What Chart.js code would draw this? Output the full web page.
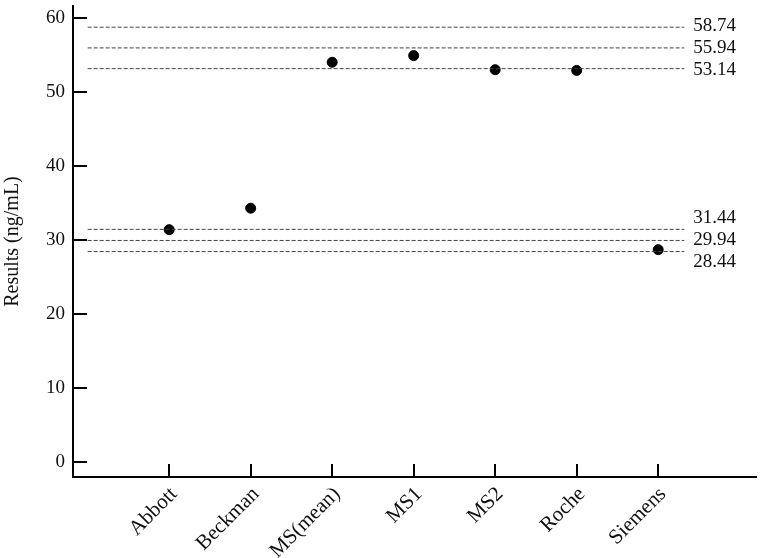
<!DOCTYPE html>
<html>
<head>
<meta charset="utf-8">
<script src="https://cdn.jsdelivr.net/npm/chart.js@4/dist/chart.umd.min.js"></script>
<style>
  html, body { margin: 0; padding: 0; background: #fff; }
  #wrap { width: 762px; height: 558px; position: relative; }
</style>
</head>
<body>
<div id="wrap"><canvas id="chart"></canvas></div>
<script>
// datos del gráfico
const categories = ['Abbott', 'Beckman', 'MS(mean)', 'MS1', 'MS2', 'Roche', 'Siemens'];
const results = [31.4, 34.3, 54.0, 54.9, 53.0, 52.9, 28.7];
const refValues = [58.74, 55.94, 53.14, 31.44, 29.94, 28.44];
const yTicks = [0, 10, 20, 30, 40, 50, 60];

// extremos de las líneas de referencia (en unidades del eje x)
const refStart = -1;
const refEnd = 6.32;

const FONT = 'Liberation Serif, Times New Roman, serif';

// separa las etiquetas que quedan muy juntas
function spreadLabels(ys, gap) {
  let groups = ys.map(y => ({ items: [y], start: y }));
  let changed = true;
  while (changed) {
    changed = false;
    for (let i = 0; i < groups.length - 1; i++) {
      const a = groups[i], b = groups[i + 1];
      const aEnd = a.start + (a.items.length - 1) * gap;
      if (b.start - aEnd < gap) {
        const items = a.items.concat(b.items);
        const mean = items.reduce((s, v) => s + v, 0) / items.length;
        groups.splice(i, 2, { items: items, start: mean - (items.length - 1) * gap / 2 });
        changed = true;
        break;
      }
    }
  }
  const out = [];
  groups.forEach(g => g.items.forEach((_, k) => out.push(g.start + k * gap)));
  return out;
}

const axisDecor = {
  id: 'axisDecor',
  afterDraw(chart) {
    const ctx = chart.ctx;
    const x = chart.scales.x, y = chart.scales.y;
    const area = chart.chartArea;
    ctx.save();
    ctx.strokeStyle = '#000';
    ctx.lineWidth = 2;
    // marcas hacia dentro en el eje y
    yTicks.forEach(v => {
      const py = Math.round(y.getPixelForValue(v));
      ctx.beginPath();
      ctx.moveTo(area.left, py);
      ctx.lineTo(area.left + 14, py);
      ctx.stroke();
    });
    // marcas hacia dentro en el eje x y etiquetas giradas
    ctx.fillStyle = '#111';
    ctx.font = '21px ' + FONT;
    ctx.textAlign = 'right';
    ctx.textBaseline = 'middle';
    categories.forEach((c, i) => {
      const px = Math.round(x.getPixelForValue(i));
      ctx.beginPath();
      ctx.moveTo(px, area.bottom);
      ctx.lineTo(px, area.bottom - 13);
      ctx.stroke();
      ctx.save();
      ctx.translate(px + 5, area.bottom + 14);
      ctx.rotate(-Math.PI / 4);
      ctx.fillText(c, 0, 0);
      ctx.restore();
    });
    // etiquetas de las líneas de referencia
    const pys = refValues.map(v => y.getPixelForValue(v));
    const order = pys.map((p, i) => i).sort((a, b) => pys[a] - pys[b]);
    const spread = spreadLabels(order.map(i => pys[i]), 22);
    const lx = x.getPixelForValue(refEnd) + 9;
    ctx.font = '19px ' + FONT;
    ctx.textAlign = 'left';
    ctx.textBaseline = 'middle';
    order.forEach((idx, k) => {
      ctx.fillText(refValues[idx].toFixed(2), lx, spread[k]);
    });
    ctx.restore();
  }
};

const datasets = refValues.map(v => ({
  type: 'line',
  data: [{ x: refStart, y: v }, { x: refEnd, y: v }],
  borderColor: '#444',
  borderWidth: 1,
  borderDash: [4, 2],
  pointRadius: 0,
  fill: false
}));
datasets.push({
  type: 'scatter',
  data: results.map((v, i) => ({ x: i, y: v })),
  backgroundColor: '#000',
  borderColor: '#000',
  pointRadius: 5,
  pointHoverRadius: 5
});

new Chart(document.getElementById('chart'), {
  type: 'scatter',
  data: { datasets: datasets },
  plugins: [axisDecor],
  options: {
    responsive: true,
    maintainAspectRatio: false,
    animation: false,
    layout: { padding: { top: 2, right: 2, left: 0, bottom: 0 } },
    plugins: { legend: { display: false }, tooltip: { enabled: false } },
    scales: {
      x: {
        type: 'linear',
        min: -1.18,
        max: 7.2,
        grid: { display: false, drawTicks: false },
        border: { display: true, color: '#000', width: 2 },
        afterBuildTicks: scale => { scale.ticks = categories.map((c, i) => ({ value: i })); },
        afterFit: scale => { scale.height = 81; scale.paddingLeft = 0; scale.paddingRight = 0; },
        ticks: { display: false }
      },
      y: {
        min: -2,
        max: 61.6,
        grid: { display: false, drawTicks: false },
        border: { display: true, color: '#000', width: 2 },
        afterBuildTicks: scale => { scale.ticks = yTicks.map(v => ({ value: v })); },
        afterFit: scale => { scale.width = 73; scale.paddingTop = 0; scale.paddingBottom = 0; },
        ticks: {
          padding: 8,
          color: '#111',
          font: { family: FONT, size: 19 }
        },
        title: {
          display: true,
          text: 'Results (ng/mL)',
          color: '#111',
          padding: { top: 1, bottom: 0 },
          font: { family: FONT, size: 20 }
        }
      }
    }
  }
});
</script>
</body>
</html>
